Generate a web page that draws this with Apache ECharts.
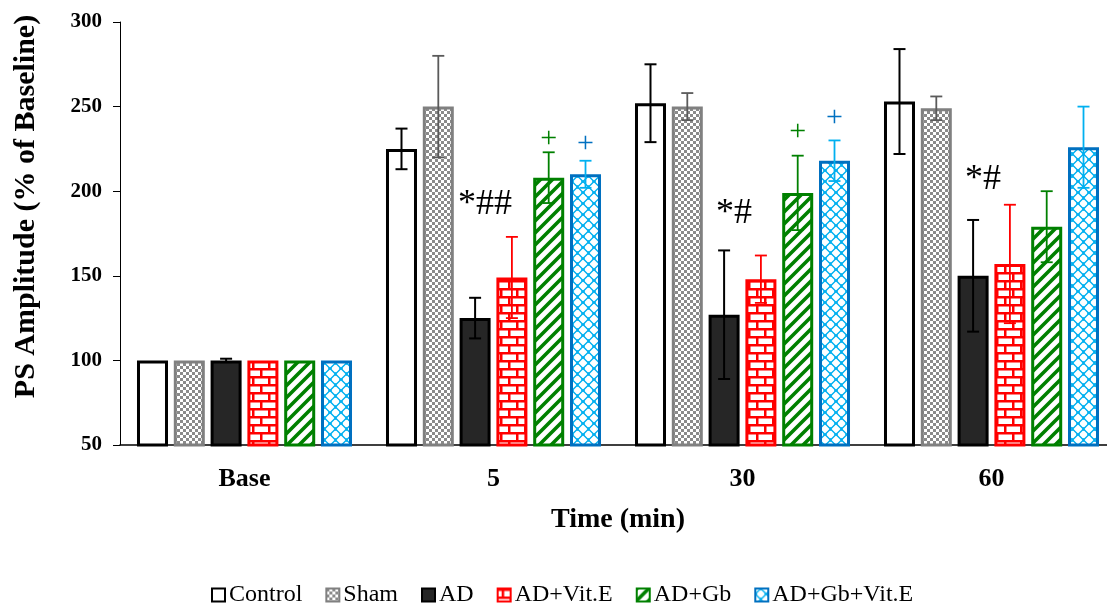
<!DOCTYPE html>
<html>
<head>
<meta charset="utf-8">
<script src="https://cdn.jsdelivr.net/npm/echarts@6/dist/echarts.min.js"></script>
<style>html,body{margin:0;padding:0;background:#fff;}#c{width:1107px;height:606px;}</style>
</head>
<body>
<div id="c"></div>
<script>
const categories = ['Base', '5', '30', '60'];
const seriesNames = ['Control', 'Sham', 'AD', 'AD+Vit.E', 'AD+Gb', 'AD+Gb+Vit.E'];
const control = [100, 225, 252, 253];
const controlErr = [0, 12, 23, 31];
const sham = [100, 250, 250, 249];
const shamErr = [0, 30, 8, 7];
const ad = [100, 125, 127, 150];
const adErr = [1, 12, 38, 33];
const vitE = [100, 149, 148, 157];
const vitEErr = [0, 24, 14, 35];
const gb = [100, 208, 199, 179];
const gbErr = [0, 15, 22, 21];
const gbVitE = [100, 210, 218, 226];
const gbVitEErr = [0, 8, 12, 24];
const yTicks = [50, 100, 150, 200, 250, 300];
const annotTexts = ['*##', '*#', '*#', '+', '+', '+', '+'];
const annotCat = [1, 2, 3, 1, 1, 2, 2];
const annotSeries = [2, 2, 2, 4, 5, 4, 5];
const annotValue = [192, 187, 207, 231, 228, 235, 243];

const FONT = 'Liberation Serif';
const values = [control, sham, ad, vitE, gb, gbVitE];
const errs = [controlErr, shamErr, adErr, vitEErr, gbErr, gbVitEErr];
const borderColors = ['#000000', '#808080', '#000000', '#ff0000', '#008000', '#0070c0'];
const errColors = ['#000000', '#5a5a5a', '#000000', '#ff0000', '#008000', '#00b0f0'];
const annotColors = {2: '#000000', 4: '#008000', 5: '#0070c0'};

function makeCanvas(w, h, draw) {
  const c = document.createElement('canvas');
  c.width = w; c.height = h;
  const ctx = c.getContext('2d');
  ctx.fillStyle = '#ffffff';
  ctx.fillRect(0, 0, w, h);
  draw(ctx);
  return {image: c, repeat: 'repeat'};
}
const shamPattern = makeCanvas(6, 6, ctx => {
  ctx.fillStyle = '#8a8a8a';
  ctx.fillRect(0, 0, 3, 3);
  ctx.fillRect(3, 3, 3, 3);
});
const brickPattern = makeCanvas(16, 16, ctx => {
  ctx.fillStyle = '#ff0000';
  ctx.fillRect(0, 0, 16, 2.5);
  ctx.fillRect(0, 8, 16, 2.5);
  ctx.fillRect(4, 0, 2.5, 8);
  ctx.fillRect(12, 8, 2.5, 8);
});
const stripePattern = makeCanvas(12, 12, ctx => {
  ctx.strokeStyle = '#008000';
  ctx.lineWidth = 3.6;
  ctx.beginPath();
  ctx.moveTo(-2, 14); ctx.lineTo(14, -2);
  ctx.moveTo(-8, 8); ctx.lineTo(8, -8);
  ctx.moveTo(4, 20); ctx.lineTo(20, 4);
  ctx.stroke();
});
const trellisPattern = makeCanvas(11, 11, ctx => {
  ctx.strokeStyle = '#00b0f0';
  ctx.lineWidth = 1.4;
  ctx.beginPath();
  ctx.moveTo(0, 5.5); ctx.lineTo(5.5, 0); ctx.lineTo(11, 5.5); ctx.lineTo(5.5, 11); ctx.closePath();
  ctx.stroke();
  ctx.fillStyle = '#00b0f0';
  ctx.fillRect(4.5, 0, 2, 1.8); ctx.fillRect(4.5, 9.2, 2, 1.8);
  ctx.fillRect(0, 4.5, 1.8, 2); ctx.fillRect(9.2, 4.5, 1.8, 2);
});
const fills = ['#ffffff', shamPattern, '#262626', brickPattern, stripePattern, trellisPattern];

const BAR_CAT_GAP = 0.1365, BAR_GAP = 0.187, N = 6;
function barCenter(api, cat, sIdx, val) {
  const p = api.coord([cat, val]);
  const band = api.size([1, 0])[0];
  const group = band * (1 - BAR_CAT_GAP);
  const bw = group / (N + (N - 1) * BAR_GAP);
  return [p[0] - group / 2 + sIdx * bw * (1 + BAR_GAP) + bw / 2, p[1], bw];
}

const barSeries = seriesNames.map((name, i) => ({
  name: name,
  type: 'bar',
  data: values[i],
  barGap: (BAR_GAP * 100) + '%',
  barCategoryGap: (BAR_CAT_GAP * 100) + '%',
  itemStyle: {color: fills[i], borderColor: borderColors[i], borderWidth: 3},
  emphasis: {disabled: true},
  z: 2
}));

const errData = [];
values.forEach((arr, s) => arr.forEach((v, c) => {
  if (errs[s][c] > 0) errData.push([c, v, errs[s][c], s]);
}));

const errSeries = {
  type: 'custom',
  name: 'err',
  data: errData,
  encode: {x: 0, y: 1},
  z: 5,
  silent: true,
  renderItem: function (params, api) {
    const c = api.value(0), v = api.value(1), e = api.value(2), s = api.value(3);
    const hi = barCenter(api, c, s, v + e);
    const lo = barCenter(api, c, s, v - e);
    const x = hi[0];
    const cap = 6;
    const col = errColors[s];
    const lw = (s === 0 || s === 2) ? 2 : 1.8;
    return {
      type: 'group',
      children: [
        {type: 'line', shape: {x1: x, y1: hi[1], x2: x, y2: lo[1]}, style: {stroke: col, lineWidth: lw}},
        {type: 'line', shape: {x1: x - cap, y1: hi[1], x2: x + cap, y2: hi[1]}, style: {stroke: col, lineWidth: lw}},
        {type: 'line', shape: {x1: x - cap, y1: lo[1], x2: x + cap, y2: lo[1]}, style: {stroke: col, lineWidth: lw}}
      ]
    };
  }
};

const annotData = annotTexts.map((t, i) => [annotCat[i], annotValue[i], annotSeries[i], i]);
const annotSeriesObj = {
  type: 'custom',
  name: 'annot',
  data: annotData,
  encode: {x: 0, y: 1},
  z: 6,
  silent: true,
  renderItem: function (params, api) {
    const c = api.value(0), v = api.value(1), s = api.value(2), idx = api.value(3);
    const p = barCenter(api, c, s, v);
    const txt = annotTexts[idx];
    const multi = txt.length > 1;
    return {
      type: 'text',
      x: p[0] + (multi ? 10 : 0),
      y: p[1],
      style: {
        text: txt,
        fill: annotColors[s],
        font: (multi ? '36px ' : '30px ') + FONT,
        align: 'center',
        verticalAlign: 'middle'
      }
    };
  }
};

const chart = echarts.init(document.getElementById('c'), null, {renderer: 'canvas'});
chart.setOption({
  backgroundColor: '#ffffff',
  animation: false,
  grid: {left: 120, top: 22, width: 996, bottom: 161, containLabel: false, outerBoundsMode: 'none'},
  legend: {
    data: seriesNames,
    top: 578,
    left: 206,
    itemWidth: 13,
    itemHeight: 13,
    itemGap: 23,
    icon: 'rect',
    textStyle: {fontFamily: FONT, fontSize: 24, color: '#000', padding: [0, 0, 0, -1]}
  },
  xAxis: {
    type: 'category',
    data: categories,
    axisLine: {lineStyle: {color: '#000', width: 1.5}},
    axisTick: {show: false},
    axisLabel: {fontFamily: FONT, fontSize: 26, fontWeight: 'bold', color: '#000', margin: 21},
    name: 'Time (min)',
    nameLocation: 'middle',
    nameGap: 61,
    nameTextStyle: {fontFamily: FONT, fontSize: 28, fontWeight: 'bold', color: '#000'}
  },
  yAxis: {
    type: 'value',
    min: yTicks[0],
    max: yTicks[yTicks.length - 1],
    interval: 50,
    splitLine: {show: false},
    axisLine: {show: true, lineStyle: {color: '#000', width: 1}},
    axisTick: {show: true, inside: false, length: 7, lineStyle: {color: '#000'}},
    axisLabel: {fontFamily: FONT, fontSize: 21, fontWeight: 'bold', color: '#000', margin: 18},
    name: 'PS Amplitude (% of Baseline)',
    nameLocation: 'middle',
    nameGap: 79,
    nameTextStyle: {fontFamily: FONT, fontSize: 30, fontWeight: 'bold', color: '#000', padding: [0, 0, 0, 54]}
  },
  series: barSeries.concat([errSeries, annotSeriesObj])
});
</script>
</body>
</html>
